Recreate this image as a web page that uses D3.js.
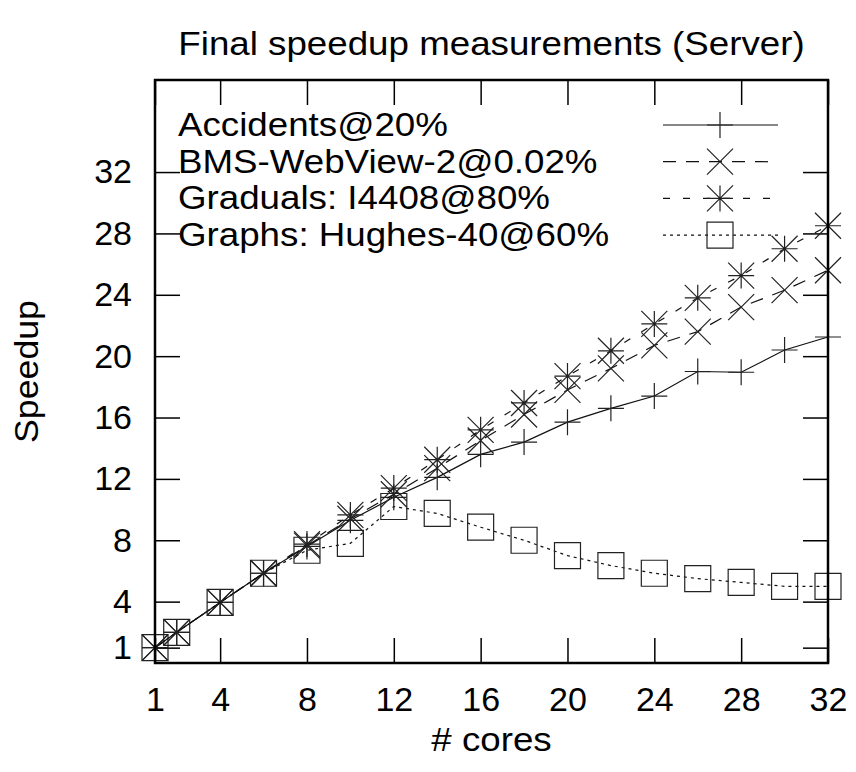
<!DOCTYPE html>
<html>
<head>
<meta charset="utf-8">
<script src="https://cdn.jsdelivr.net/npm/d3@7"></script>
<style>
  body { margin: 0; background: #fff; }
  text { font-family: "Liberation Sans", Arial, sans-serif; }
</style>
</head>
<body>
<div class="chart"></div>
<script>
var cores = [1, 2, 4, 6, 8, 10, 12, 14, 16, 18, 20, 22, 24, 26, 28, 30, 32]
var accidents = [1, 2, 3.95, 5.85, 7.6, 9.3, 10.8, 12.1, 13.6, 14.4, 15.7, 16.6, 17.4, 19.0, 18.95, 20.4, 21.25]
var bms = [1, 2, 3.95, 5.85, 7.65, 9.4, 11.0, 12.7, 14.5, 16.2, 17.8, 19.2, 20.7, 21.6, 23.2, 24.3, 25.6]
var graduals = [1, 2, 3.95, 5.85, 7.75, 9.65, 11.4, 13.25, 15.2, 16.95, 18.7, 20.35, 22.1, 23.8, 25.25, 27.0, 28.5]
var graphs = [1, 2, 3.95, 5.85, 7.35, 7.8, 10.2, 9.75, 8.85, 8.0, 7.0, 6.35, 5.85, 5.5, 5.25, 5.0, 5.0]
var seriesNames = ["Accidents@20%", "BMS-WebView-2@0.02%", "Graduals: I4408@80%", "Graphs: Hughes-40@60%"]
var xTicks = [1, 4, 8, 12, 16, 20, 24, 28, 32]
var yTicks = [1, 4, 8, 12, 16, 20, 24, 28, 32]

var width = 856, height = 772
var mLeft = 155, mRight = 828, mTop = 80, mBottom = 663

var svg = d3.select(".chart").append("svg")
  .attr("width", width)
  .attr("height", height)

var x = d3.scaleLinear().domain([1, 32]).range([mLeft, mRight])
var y = d3.scaleLinear().domain([0, 38]).range([mBottom, mTop])

var series = [
  {name: seriesNames[0], values: accidents, dash: null, marker: "plus"},
  {name: seriesNames[1], values: bms, dash: "13,10", marker: "cross"},
  {name: seriesNames[2], values: graduals, dash: "7,13", marker: "star"},
  {name: seriesNames[3], values: graphs, dash: "3,4", marker: "box"}
]

var fs = 34, sx = 1.08

// axes: inward ticks, mirrored on top and right
function styleAxis(g, labels) {
  g.select(".domain").remove()
  g.selectAll(".tick line").attr("stroke", "#000").attr("stroke-width", 1.5)
  g.selectAll(".tick text")
    .style("font-size", fs + "px")
    .attr("fill", "#000")
  if (!labels) g.selectAll(".tick text").remove()
}
svg.append("g")
  .attr("transform", `translate(0,${mBottom})`)
  .call(d3.axisBottom(x).tickValues(xTicks).tickSizeInner(-25).tickSizeOuter(0).tickPadding(24))
  .call(g => styleAxis(g, true))
svg.append("g")
  .attr("transform", `translate(0,${mTop})`)
  .call(d3.axisTop(x).tickValues(xTicks).tickSizeInner(-25).tickSizeOuter(0))
  .call(g => styleAxis(g, false))
svg.append("g")
  .attr("transform", `translate(${mLeft},0)`)
  .call(d3.axisLeft(y).tickValues(yTicks).tickSizeInner(-25).tickSizeOuter(0).tickPadding(23))
  .call(g => styleAxis(g, true))
svg.append("g")
  .attr("transform", `translate(${mRight},0)`)
  .call(d3.axisRight(y).tickValues(yTicks).tickSizeInner(-25).tickSizeOuter(0))
  .call(g => styleAxis(g, false))

function markerPath(type, cx, cy) {
  var h = 13, p = d3.path()
  if (type == "plus" || type == "star") {
    p.moveTo(cx - h, cy); p.lineTo(cx + h, cy)
    p.moveTo(cx, cy - h); p.lineTo(cx, cy + h)
  }
  if (type == "cross" || type == "star") {
    p.moveTo(cx - h, cy - h); p.lineTo(cx + h, cy + h)
    p.moveTo(cx - h, cy + h); p.lineTo(cx + h, cy - h)
  }
  if (type == "box") {
    p.rect(cx - h, cy - h, 2 * h, 2 * h)
  }
  return p.toString()
}

var line = d3.line()
  .x((d, i) => x(cores[i]))
  .y(d => y(d))

var plot = svg.append("g")
series.forEach(function(s) {
  plot.append("path")
    .attr("d", line(s.values))
    .attr("fill", "none")
    .attr("stroke", "#111")
    .attr("stroke-width", 1.2)
    .attr("stroke-dasharray", s.dash)
  plot.selectAll(null)
    .data(s.values)
    .enter()
    .append("path")
    .attr("d", (d, i) => markerPath(s.marker, x(cores[i]), y(d)))
    .attr("fill", "none")
    .attr("stroke", "#222")
    .attr("stroke-width", 1.2)
})

// legend
var legend = svg.append("g")
series.forEach(function(s, i) {
  var ry = 125 + i * 36.7
  legend.append("text")
    .attr("transform", `translate(178,${ry + 11}) scale(${sx},1)`)
    .style("font-size", fs + "px")
    .text(s.name)
  legend.append("line")
    .attr("x1", 663).attr("x2", 778)
    .attr("y1", ry).attr("y2", ry)
    .attr("stroke", "#111")
    .attr("stroke-width", 1.2)
    .attr("stroke-dasharray", s.dash)
  legend.append("path")
    .attr("d", markerPath(s.marker, 720, ry))
    .attr("fill", "none")
    .attr("stroke", "#222")
    .attr("stroke-width", 1.2)
})

// border
svg.append("rect")
  .attr("x", mLeft).attr("y", mTop)
  .attr("width", mRight - mLeft).attr("height", mBottom - mTop)
  .attr("fill", "none")
  .attr("stroke", "#000")
  .attr("stroke-width", 2.5)

svg.append("text")
  .attr("transform", `translate(${(mLeft + mRight) / 2},55) scale(${sx},1)`)
  .attr("text-anchor", "middle")
  .style("font-size", fs + "px")
  .text("Final speedup measurements (Server)")

svg.append("text")
  .attr("transform", `translate(${(mLeft + mRight) / 2},751) scale(${sx},1)`)
  .attr("text-anchor", "middle")
  .style("font-size", fs + "px")
  .text("# cores")

svg.append("text")
  .attr("transform", `translate(38,${(mTop + mBottom) / 2}) rotate(-90) scale(1.05,1)`)
  .attr("text-anchor", "middle")
  .style("font-size", fs + "px")
  .text("Speedup")
</script>
</body>
</html>
